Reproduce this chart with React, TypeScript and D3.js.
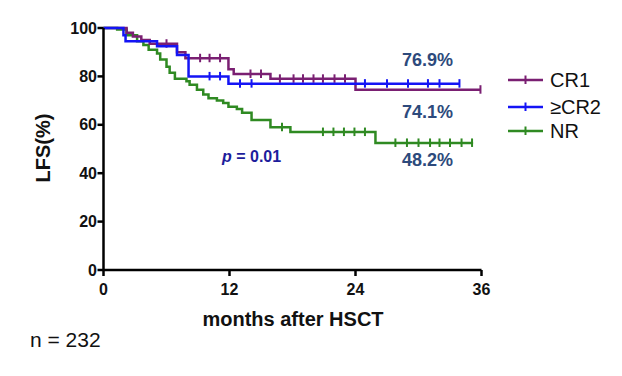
import React from "react";
import * as d3 from "d3";

const xTicks = [0, 12, 24, 36];
const yTicks = [0, 20, 40, 60, 80, 100];
const seriesNames = ["CR1", "≥CR2", "NR"];
const seriesColors = ["#7a1f72", "#1414f5", "#2f8a22"];

// step points: [month, survival %]
const cr1Steps: [number, number][] = [
  [0, 100], [2.2, 98], [2.8, 96.5], [3.6, 95], [4.4, 93.5], [7.0, 90], [7.8, 87.5],
  [11.9, 83], [12.4, 81], [15.9, 79], [24, 74.5],
];
const cr1End = 35.9;
const cr1Censor = [6.0, 9.2, 10.1, 11.1, 14, 15, 16.8, 18.1, 19, 20, 20.9, 22, 23, 35.9];

const cr2Steps: [number, number][] = [
  [0, 100], [1.9, 97], [2.1, 94.5], [5.1, 92.5], [7.0, 88.8], [8.1, 80], [11.9, 77],
];
const cr2End = 33.9;
const cr2Censor = [10.1, 11.1, 13, 14.1, 24.9, 27, 29, 30.9, 32, 33.9];

const nrSteps: [number, number][] = [
  [0, 100], [1.3, 99.4], [2.2, 97], [3.2, 94.5], [3.8, 93], [4.3, 91], [5.1, 89.5],
  [5.4, 87], [6.0, 84], [6.3, 81.5], [6.8, 79], [7.9, 78], [8.2, 76.5], [8.9, 74.5],
  [9.5, 72.5], [10, 71], [10.8, 70], [11.4, 69], [11.9, 67.5], [12.7, 66.5], [13.2, 65],
  [14.1, 62], [15.9, 59], [17.8, 57], [25.9, 52.5],
];
const nrEnd = 35.2;
const nrCensor = [17, 20.9, 21.9, 22.9, 23.9, 24.9, 27.8, 28.9, 30, 31.1, 32, 33, 34.1, 35.1];

const pctLabels = ["76.9%", "74.1%", "48.2%"];
const pctLabelY = [66, 118, 166];

const W = 622, H = 376;
const x = d3.scaleLinear().domain([0, 36]).range([103.5, 481.5]);
const y = d3.scaleLinear().domain([0, 100]).range([270, 28]);

function valueAt(steps: [number, number][], t: number) {
  let v = steps[0][1];
  for (const s of steps) if (s[0] <= t) v = s[1];
  return v;
}

function Curve({ steps, end, censor, color }: { steps: [number, number][]; end: number; censor: number[]; color: string }) {
  const pts: [number, number][] = [...steps, [end, steps[steps.length - 1][1]]];
  const line = d3.line<[number, number]>().x(d => x(d[0])).y(d => y(d[1])).curve(d3.curveStepAfter);
  return (
    <g>
      <path d={line(pts) || ""} fill="none" stroke={color} strokeWidth={2.5} />
      {censor.map((c, i) => {
        const cy = y(valueAt(steps, c));
        return <line key={i} x1={x(c)} x2={x(c)} y1={cy - 4.5} y2={cy + 4} stroke={color} strokeWidth={2} />;
      })}
    </g>
  );
}

export default function App() {
  const font = "Liberation Sans, Arial, sans-serif";
  const legendY = [80, 107, 131];
  return (
    <svg width={W} height={H} style={{ position: "absolute", left: 0, top: 0, background: "#fff" }} fontFamily={font}>
      <rect width={W} height={H} fill="#fff" />
      {/* curves */}
      <Curve steps={nrSteps} end={nrEnd} censor={nrCensor} color={seriesColors[2]} />
      <Curve steps={cr1Steps} end={cr1End} censor={cr1Censor} color={seriesColors[0]} />
      <Curve steps={cr2Steps} end={cr2End} censor={cr2Censor} color={seriesColors[1]} />
      {/* axes */}
      <line x1={x(0)} x2={x(0)} y1={y(100)} y2={y(0)} stroke="#000" strokeWidth={2.5} />
      <line x1={x(0)} x2={x(36)} y1={y(0)} y2={y(0)} stroke="#000" strokeWidth={2.5} />
      {yTicks.map(t => (
        <g key={t}>
          <line x1={x(0) - 6} x2={x(0)} y1={y(t)} y2={y(t)} stroke="#000" strokeWidth={2.5} />
          <text x={x(0) - 6.5} y={y(t) + 5.5} textAnchor="end" fontSize={16} fontWeight="bold" fill="#111">{t}</text>
        </g>
      ))}
      {xTicks.map(t => (
        <g key={t}>
          <line x1={x(t)} x2={x(t)} y1={y(0)} y2={y(0) + 6} stroke="#000" strokeWidth={2.5} />
          <text x={x(t)} y={295} textAnchor="middle" fontSize={16} fontWeight="bold" fill="#111">{t}</text>
        </g>
      ))}
      <text x={293} y={326} textAnchor="middle" fontSize={20} fontWeight="bold" fill="#111">months after HSCT</text>
      <text transform="translate(50,148) rotate(-90)" textAnchor="middle" fontSize={20} fontWeight="bold" fill="#111">LFS(%)</text>
      <text x={30} y={347} fontSize={21} fill="#111">n = 232</text>
      {/* percentages */}
      {pctLabels.map((l, i) => (
        <text key={l} x={427.5} y={pctLabelY[i]} textAnchor="middle" fontSize={18} fontWeight="bold" fill="#2d4a7c">{l}</text>
      ))}
      <text x={222} y={162} fontSize={16} fontWeight="bold" fill="#1d1d9c">
        <tspan fontStyle="italic">p</tspan> = 0.01
      </text>
      {/* legend */}
      {seriesNames.map((n, i) => (
        <g key={n}>
          <line x1={508} x2={543} y1={legendY[i]} y2={legendY[i]} stroke={seriesColors[i]} strokeWidth={2.5} />
          <line x1={525.5} x2={525.5} y1={legendY[i] - 4.5} y2={legendY[i] + 4} stroke={seriesColors[i]} strokeWidth={2} />
          <text x={550} y={legendY[i] + 7} fontSize={20} fill="#111">{n}</text>
        </g>
      ))}
    </svg>
  );
}
